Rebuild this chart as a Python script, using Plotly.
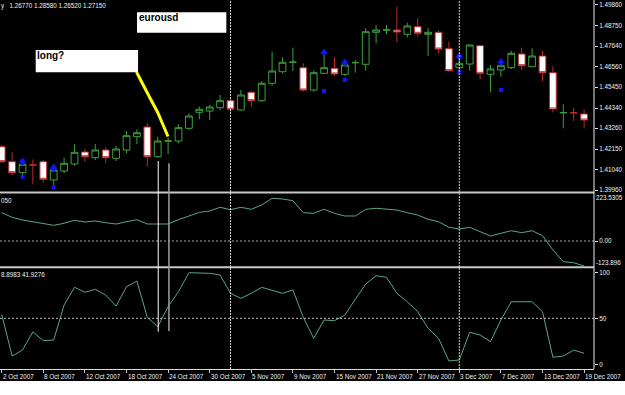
import plotly.graph_objects as go
import pandas as pd

# ---------------- data ----------------
dates = pd.bdate_range("2007-10-02", "2007-12-19")  # 57 daily bars

opens = [1.42273, 1.41472, 1.40884, 1.41296, 1.41472, 1.40494, 1.40975, 1.41349, 1.41990, 1.41686,
         1.42097, 1.41654, 1.42097, 1.42808, 1.43326, 1.41739, 1.42578, 1.42578, 1.43256, 1.44111,
         1.44181, 1.44357, 1.44731, 1.44234, 1.45180, 1.44731, 1.45661, 1.46280, 1.46783, 1.46494,
         1.45303, 1.46195, 1.46462, 1.46141, 1.46761, 1.46676, 1.48385, 1.48508, 1.48508, 1.48279,
         1.48685, 1.48279, 1.48385, 1.47509, 1.46494, 1.46692, 1.47670, 1.46141, 1.46371, 1.46494,
         1.47226, 1.46548, 1.47119, 1.46227, 1.44090, 1.44090, 1.44021]
highs = [1.42364, 1.41974, 1.41403, 1.41590, 1.41563, 1.41135, 1.41686, 1.42402, 1.42151, 1.42418,
         1.42241, 1.42311, 1.43112, 1.43203, 1.43524, 1.42808, 1.42765, 1.43470, 1.44058, 1.44411,
         1.44501, 1.45036, 1.44859, 1.45303, 1.45249, 1.45784, 1.47349, 1.47050, 1.47563, 1.46729,
         1.46334, 1.47119, 1.47050, 1.46692, 1.46906, 1.48599, 1.48775, 1.48775, 1.49753, 1.48898,
         1.49133, 1.48599, 1.48471, 1.47883, 1.46906, 1.47734, 1.47707, 1.46638, 1.46692, 1.47386,
         1.47563, 1.47531, 1.47402, 1.46585, 1.44539, 1.44357, 1.44272]
lows = [1.41403, 1.40761, 1.40761, 1.40265, 1.40350, 1.40227, 1.40852, 1.41258, 1.41472, 1.41563,
        1.41387, 1.41509, 1.41921, 1.42402, 1.41205, 1.41686, 1.41867, 1.42455, 1.43166, 1.43737,
        1.43700, 1.44234, 1.44058, 1.44207, 1.44411, 1.44678, 1.45532, 1.46195, 1.46318, 1.45212,
        1.45212, 1.46158, 1.46051, 1.46051, 1.46227, 1.46334, 1.47798, 1.48279, 1.47851, 1.48118,
        1.48150, 1.47119, 1.47264, 1.46280, 1.46334, 1.46334, 1.45890, 1.45212, 1.46013, 1.46425,
        1.46371, 1.46532, 1.45784, 1.44111, 1.43256, 1.43647, 1.43246]
closes = [1.41472, 1.40884, 1.41333, 1.41291, 1.40532, 1.41029, 1.41387, 1.41974, 1.41739, 1.42097,
          1.41686, 1.42151, 1.42861, 1.43021, 1.41739, 1.42578, 1.42583, 1.43289, 1.43914, 1.44272,
          1.44394, 1.44731, 1.44272, 1.45036, 1.44731, 1.45661, 1.46318, 1.46783, 1.46788, 1.45303,
          1.46227, 1.46494, 1.46158, 1.46638, 1.46766, 1.48417, 1.48508, 1.48513, 1.48402, 1.48722,
          1.48332, 1.48385, 1.47493, 1.46334, 1.46729, 1.47707, 1.46195, 1.46425, 1.46601, 1.47264,
          1.46601, 1.47119, 1.46227, 1.44288, 1.44095, 1.44085, 1.43700]

cci = [133.0, 111.4, 98.7, 90.7, 83.2, 73.8, 83.2, 97.3, 89.3, 94.0,
       86.0, 79.9, 90.7, 100.1, 79.9, 79.9, 79.9, 100.1, 117.5, 134.9,
       141.0, 158.4, 147.1, 158.4, 149.0, 169.2, 200.7, 197.4, 189.4, 133.0,
       130.2, 149.0, 130.2, 117.5, 117.5, 149.0, 153.7, 150.4, 145.7, 133.0,
       122.2, 102.0, 90.7, 64.4, 56.4, 64.4, 43.7, 23.5, 36.2, 48.4,
       39.0, 48.4, 24.9, -42.3, -97.3, -102.0, -117.5]
stoch = [54.3, 9.0, 15.5, 35.4, 25.7, 26.4, 64.5, 83.7, 78.3, 81.5,
         75.3, 63.4, 84.3, 90.5, 51.1, 40.9, 62.6, 78.9, 99.6, 99.6,
         98.9, 97.1, 77.2, 71.7, 77.2, 83.7, 80.8, 77.2, 80.8, 51.0,
         28.3, 48.2, 47.4, 53.6, 70.7, 87.3, 96.3, 94.6, 77.2, 68.0,
         57.2, 39.1, 28.3, 3.6, 4.7, 34.8, 31.8, 24.6, 48.2, 68.0,
         68.0, 68.0, 57.2, 7.6, 9.0, 15.5, 12.0]

signal_bars = [2, 5, 31, 33, 44, 48]
arrow_prices = [1.41509, 1.41189, 1.47333, 1.46799, 1.47119, 1.46825]
dot_prices = [1.40671, 1.40104, 1.45249, 1.45837, 1.46248, 1.45303]

price_ticks = [1.39960, 1.41040, 1.42150, 1.43260, 1.44340, 1.45450, 1.46560, 1.47640, 1.48750, 1.49860]
price_ticktext = ["1.39960", "1.41040", "1.42150", "1.43260", "1.44340", "1.45450", "1.46560",
                  "1.47640", "1.48750", "1.49860"]
date_labels = ["2 Oct 2007", "8 Oct 2007", "12 Oct 2007", "18 Oct 2007", "24 Oct 2007", "30 Oct 2007",
               "5 Nov 2007", "9 Nov 2007", "15 Nov 2007", "21 Nov 2007", "27 Nov 2007", "3 Dec 2007",
               "7 Dec 2007", "13 Dec 2007", "19 Dec 2007"]
label_dates = pd.to_datetime(date_labels, format="%d %b %Y")

# hand-drawn objects (bar index, price)
curve_x = [12.96, 13.63, 14.31, 14.98, 15.51, 15.99]
curve_y = [1.46264, 1.45516, 1.44822, 1.44127, 1.43486, 1.42818]

# ---------------- layout constants ----------------
W, H = 625, 395
ML, MR, MT, MB = 0, 31, 0, 26
PH = H - MT - MB  # 369
XR = [-0.1635, 56.952]
PRICE_RANGE = [1.39880, 1.50111]
CCI_RANGE = [-117.5, 223.25]
ST_RANGE = [-5.1, 104.7]

def pf(py):  # pixel row -> paper fraction
    return (PH - py) / PH

D1 = [pf(191.5), 1.0]
D2 = [pf(266.0), pf(193.5)]
D3 = [0.0, pf(268.0)]

GREEN = "#3ea03e"
RED = "#c02c2c"
LINE = "#5aa882"
TXT = "#f0f0f0"
BLUE = "#1414ff"
FONT = "Liberation Sans"
FS = 6.3

idx = list(range(len(dates)))
xi = {d: i for i, d in enumerate(dates)}
label_idx = [xi[d] for d in label_dates]
month_starts = [i for i in range(1, len(dates)) if dates[i].month != dates[i - 1].month]

fig = go.Figure()
fig.add_trace(go.Candlestick(
    x=idx, open=opens, high=highs, low=lows, close=closes, xaxis="x", yaxis="y",
    increasing=dict(line=dict(color=GREEN, width=1), fillcolor="black"),
    decreasing=dict(line=dict(color=RED, width=1), fillcolor="white"),
    whiskerwidth=0, showlegend=False, hoverinfo="skip"))

fig.add_trace(go.Scatter(x=curve_x, y=curve_y, mode="lines", line=dict(color="#ffff00", width=3),
                         xaxis="x", yaxis="y", showlegend=False, hoverinfo="skip"))

pxp = (PRICE_RANGE[1] - PRICE_RANGE[0]) / ((D1[1] - D1[0]) * PH)
fig.add_trace(go.Scatter(x=signal_bars, y=arrow_prices, mode="markers",
                         marker=dict(symbol="triangle-up", size=7, color=BLUE, line=dict(width=0)),
                         xaxis="x", yaxis="y", showlegend=False, hoverinfo="skip"))
fig.add_trace(go.Scatter(x=signal_bars, y=[p - 2.6 * pxp for p in arrow_prices], mode="markers",
                         marker=dict(symbol="square", size=3, color=BLUE, line=dict(width=0)),
                         xaxis="x", yaxis="y", showlegend=False, hoverinfo="skip"))
fig.add_trace(go.Scatter(x=signal_bars, y=dot_prices, mode="markers",
                         marker=dict(symbol="square", size=4, color=BLUE, line=dict(width=0)),
                         xaxis="x", yaxis="y", showlegend=False, hoverinfo="skip"))

fig.add_trace(go.Scatter(x=idx, y=cci, mode="lines", line=dict(color=LINE, width=1),
                         xaxis="x", yaxis="y2", showlegend=False, hoverinfo="skip"))
fig.add_trace(go.Scatter(x=idx, y=stoch, mode="lines", line=dict(color=LINE, width=1),
                         xaxis="x", yaxis="y3", showlegend=False, hoverinfo="skip"))

shapes = []
# level lines
shapes.append(dict(type="line", xref="paper", yref="y2", x0=0, x1=1, y0=0, y1=0,
                   line=dict(color="#a8a8a8", width=1, dash="2px,2px")))
shapes.append(dict(type="line", xref="paper", yref="y3", x0=0, x1=1, y0=50, y1=50,
                   line=dict(color="#c0c0c0", width=1, dash="2px,2px")))
# month separators
for m in month_starts:
    shapes.append(dict(type="line", xref="x", yref="paper", x0=m, x1=m, y0=0, y1=1,
                       line=dict(color="#d0d0d0", width=1, dash="2px,1px")))
# window separators
for py in (192.5, 267.2):
    shapes.append(dict(type="line", xref="paper", yref="paper", x0=0, x1=1, y0=pf(py), y1=pf(py),
                       line=dict(color="#c8c8c8", width=2)))
# right price-scale line
shapes.append(dict(type="line", xref="paper", yref="paper", x0=1, x1=1, y0=0, y1=1,
                   line=dict(color="#e8e8e8", width=1)))
# vertical marker lines drawn on the chart
shapes.append(dict(type="line", xref="x", yref="paper", x0=15.05, x1=15.05, y0=pf(331.7), y1=pf(161),
                   line=dict(color="#ffffff", width=1)))
shapes.append(dict(type="line", xref="x", yref="paper", x0=16.08, x1=16.08, y0=pf(331), y1=pf(163.3),
                   line=dict(color="#a0a0a0", width=1.5)))
# text boxes
shapes.append(dict(type="rect", xref="x", yref="y", x0=13.01, x1=21.6, y0=1.48364, y1=1.49454,
                   fillcolor="white", line=dict(width=0)))
shapes.append(dict(type="rect", xref="x", yref="y", x0=3.27, x1=13.11, y0=1.46248, y1=1.47440,
                   fillcolor="white", line=dict(width=0)))
# white strip at the bottom
shapes.append(dict(type="rect", xref="paper", yref="paper", x0=-0.01, x1=1.06, y0=pf(396), y1=pf(381),
                   fillcolor="white", line=dict(width=0)))

ann = []
for j, t in zip(label_idx, date_labels):
    ann.append(dict(x=j, y=0, xref="x", yref="paper", xanchor="left", yanchor="top", yshift=-2, xshift=-1,
                    text=t, showarrow=False, font=dict(family=FONT, size=FS, color=TXT)))
ann.append(dict(x=0, y=1, xref="paper", yref="paper", xanchor="left", yanchor="top", xshift=-1,
                text="y   1.26770 1.28580 1.26520 1.27150", showarrow=False,
                font=dict(family=FONT, size=FS, color=TXT)))
ann.append(dict(x=0, y=pf(200.3), xref="paper", yref="paper", xanchor="left", yanchor="middle", xshift=-1,
                text="050", showarrow=False, font=dict(family=FONT, size=FS, color=TXT)))
ann.append(dict(x=0, y=pf(274.7), xref="paper", yref="paper", xanchor="left", yanchor="middle", xshift=-1,
                text="8.8983 41.9276", showarrow=False, font=dict(family=FONT, size=FS, color=TXT)))
ann.append(dict(x=1, y=pf(197.7), xref="paper", yref="paper", xanchor="left", yanchor="middle", xshift=0,
                text="223.5305", showarrow=False, font=dict(family=FONT, size=FS, color=TXT)))
ann.append(dict(x=1, y=pf(262.7), xref="paper", yref="paper", xanchor="left", yanchor="middle", xshift=0,
                text="-123.896", showarrow=False, font=dict(family=FONT, size=FS, color=TXT)))
ann.append(dict(x=13.08, y=1.49176, xref="x", yref="y", xanchor="left", yanchor="middle", xshift=-1,
                text="<b>eurousd</b>", showarrow=False, font=dict(family=FONT, size=10, color="black")))
ann.append(dict(x=3.27, y=1.47146, xref="x", yref="y", xanchor="left", yanchor="middle", xshift=-1,
                text="<b>long?</b>", showarrow=False, font=dict(family=FONT, size=10, color="black")))

yax_common = dict(side="right", anchor="x", showgrid=False, zeroline=False, showline=False,
                  ticks="outside", ticklen=3, tickcolor="#e0e0e0", automargin=False,
                  tickfont=dict(family=FONT, size=FS, color=TXT))

fig.update_layout(
    template="none", width=W, height=H,
    margin=dict(l=ML, r=MR, t=MT, b=MB, pad=0),
    paper_bgcolor="black", plot_bgcolor="rgba(0,0,0,0)", showlegend=False,
    boxgap=0.35, boxgroupgap=0,
    xaxis=dict(domain=[0, 1], range=XR, anchor="y3", showgrid=False, zeroline=False,
               showticklabels=False, ticks="outside", ticklen=3, tickcolor="#c8c8c8",
               tickvals=label_idx, showline=True, linecolor="#d8d8d8", linewidth=1,
               rangeslider=dict(visible=False), automargin=False),
    yaxis=dict(domain=D1, range=PRICE_RANGE, tickvals=price_ticks, ticktext=price_ticktext, **yax_common),
    yaxis2=dict(domain=D2, range=CCI_RANGE, tickvals=[0], ticktext=["0.00"], **yax_common),
    yaxis3=dict(domain=D3, range=ST_RANGE, tickvals=[0, 50, 100], ticktext=["0", "50", "100"], **yax_common),
    shapes=shapes, annotations=ann,
)

fig.write_html("out.html")
